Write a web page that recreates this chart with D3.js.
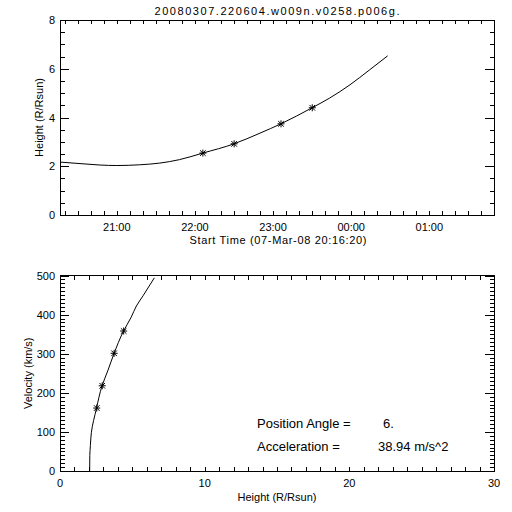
<!DOCTYPE html>
<html><head><meta charset="utf-8">
<script src="https://cdn.jsdelivr.net/npm/d3@7"></script>
<style>
html,body{margin:0;padding:0;background:#fff;}
text{font-family:"Liberation Sans",Arial,sans-serif;fill:#000;}
</style></head>
<body><svg id="c" width="512" height="512"></svg>
<script>
// ---- data ----
const titleText = "20080307.220604.w009n.v0258.p006g.";
const startTime = "2008-03-07T20:16:20Z";
const obsTimes = ["2008-03-07T22:06:04Z","2008-03-07T22:30:05Z","2008-03-07T23:06:05Z","2008-03-07T23:30:05Z"];
const obsHeights = [2.54, 2.92, 3.74, 4.40];
const obsVelocities = [161, 218, 301, 358];
const fitTimes = ["2008-03-07T20:16:20Z","2008-03-07T20:34:00Z","2008-03-07T20:47:00Z","2008-03-07T21:00:00Z",
  "2008-03-07T21:17:30Z","2008-03-07T21:33:00Z","2008-03-07T21:48:00Z","2008-03-07T22:06:00Z",
  "2008-03-07T22:30:00Z","2008-03-07T22:50:00Z","2008-03-07T23:06:00Z","2008-03-07T23:30:00Z",
  "2008-03-07T23:43:30Z","2008-03-07T23:59:00Z","2008-03-08T00:14:00Z","2008-03-08T00:28:00Z"];
const fitHeights = [2.17,2.10,2.05,2.03,2.06,2.13,2.27,2.54,2.92,3.36,3.74,4.40,4.80,5.34,5.95,6.53];
const velCurveHeights = [2.05,2.06,2.10,2.17,2.52,2.90,3.32,3.73,4.38,4.93,5.28,5.74,6.52];
const velCurveValues  = [0,40,65,99,160,217,258,300,357,394,422,448,494];
const heightTicks = [0,2,4,6,8];
const velTicks = [0,100,200,300,400,500];
const hdistTicks = [0,10,20,30];
const xTitleTop = "Start Time (07-Mar-08 20:16:20)";
const yTitleTop = "Height (R/Rsun)";
const xTitleBot = "Height (R/Rsun)";
const yTitleBot = "Velocity (km/s)";
const paLabel = "Position Angle =", paValue = "6.";
const accLabel = "Acceleration =", accValue = "38.94 m/s^2";

// ---- layout ----
const svg = d3.select("#c");
const L = 60, R = 494;
const top1 = 20, bot1 = 215, top2 = 275.5, bot2 = 471;
const t0 = new Date(startTime);
const x1 = d3.scaleUtc().domain([t0, new Date(+t0 + 20000*1000)]).range([L, R]);
const y1 = d3.scaleLinear().domain([0, 8]).range([bot1, top1]);
const x2 = d3.scaleLinear().domain([0, 30]).range([L, R]);
const y2 = d3.scaleLinear().domain([0, 500]).range([bot2, top2]);

function frame(t, b){
  svg.append("rect").attr("x",L).attr("y",t).attr("width",R-L).attr("height",b-t)
    .attr("fill","none").attr("stroke","#000").attr("stroke-width",1).attr("shape-rendering","crispEdges");
}
function hticks(xs, xscale, t, b, len){
  const g = svg.append("g").attr("stroke","#000").attr("shape-rendering","crispEdges");
  xs.forEach(v=>{
    const x = Math.round(xscale(v))+0.5;
    g.append("line").attr("x1",x).attr("x2",x).attr("y1",b).attr("y2",b-len);
    g.append("line").attr("x1",x).attr("x2",x).attr("y1",t).attr("y2",t+len);
  });
}
function vticks(vs, yscale, len){
  const g = svg.append("g").attr("stroke","#000").attr("shape-rendering","crispEdges");
  vs.forEach(v=>{
    const y = Math.round(yscale(v))+0.5;
    g.append("line").attr("x1",L).attr("x2",L+len).attr("y1",y).attr("y2",y);
    g.append("line").attr("x1",R).attr("x2",R-len).attr("y1",y).attr("y2",y);
  });
}
function star(x, y){
  const s = 3.5, g = svg.append("g").attr("stroke","#000").attr("stroke-width",1);
  g.append("line").attr("x1",x-s).attr("x2",x+s).attr("y1",y).attr("y2",y);
  g.append("line").attr("x1",x).attr("x2",x).attr("y1",y-s).attr("y2",y+s);
  g.append("line").attr("x1",x-s*0.8).attr("x2",x+s*0.8).attr("y1",y-s*0.8).attr("y2",y+s*0.8);
  g.append("line").attr("x1",x-s*0.8).attr("x2",x+s*0.8).attr("y1",y+s*0.8).attr("y2",y-s*0.8);
}

// title
svg.append("text").attr("x",277).attr("y",15).attr("text-anchor","middle")
  .attr("font-size",11).attr("textLength",245).attr("lengthAdjust","spacing").text(titleText);

// ---- top plot ----
frame(top1, bot1);
hticks(d3.utcMinute.every(10).range(x1.domain()[0], x1.domain()[1]), x1, top1, bot1, 4);
vticks(d3.range(0, 8.01, 0.5).filter(v=>v%2!==0), y1, 4.5);
vticks(heightTicks, y1, 9);
x1.ticks(d3.utcHour.every(1)).forEach(d=>{
  svg.append("text").attr("x",x1(d)).attr("y",bot1+16).attr("text-anchor","middle")
    .attr("font-size",11).text(d3.utcFormat("%H:%M")(d));
});
heightTicks.forEach(v=>{
  svg.append("text").attr("x",L-5).attr("y",y1(v)+4).attr("text-anchor","end")
    .attr("font-size",11).text(v);
});
svg.append("text").attr("x",278).attr("y",244).attr("text-anchor","middle")
  .attr("font-size",11).attr("textLength",177).attr("lengthAdjust","spacing").text(xTitleTop);
svg.append("text").attr("transform",`translate(43,${(top1+bot1)/2}) rotate(-90)`)
  .attr("text-anchor","middle").attr("font-size",11).text(yTitleTop);

const fitData = fitTimes.map((t,i)=>[new Date(t), fitHeights[i]]);
svg.append("path").datum(fitData).attr("fill","none").attr("stroke","#000").attr("stroke-width",1)
  .attr("d", d3.line().x(d=>x1(d[0])).y(d=>y1(d[1])).curve(d3.curveMonotoneX));
obsTimes.forEach((t,i)=>star(x1(new Date(t)), y1(obsHeights[i])));

// ---- bottom plot ----
frame(top2, bot2);
hticks(d3.range(0,31,1), x2, top2, bot2, 4);
vticks(d3.range(0,501,10).filter(v=>v%100!==0), y2, 4.5);
vticks(velTicks, y2, 9);
hdistTicks.forEach(v=>{
  svg.append("text").attr("x",x2(v)).attr("y",bot2+16).attr("text-anchor","middle")
    .attr("font-size",11).text(v);
});
velTicks.forEach(v=>{
  svg.append("text").attr("x",L-5).attr("y",y2(v)+4).attr("text-anchor","end")
    .attr("font-size",11).text(v);
});
svg.append("text").attr("x",277).attr("y",501).attr("text-anchor","middle")
  .attr("font-size",11).text(xTitleBot);
svg.append("text").attr("transform",`translate(32,${(top2+bot2)/2}) rotate(-90)`)
  .attr("text-anchor","middle").attr("font-size",11).text(yTitleBot);

const velData = velCurveHeights.map((h,i)=>[h, velCurveValues[i]]);
svg.append("path").datum(velData).attr("fill","none").attr("stroke","#000").attr("stroke-width",1)
  .attr("d", d3.line().x(d=>x2(d[0])).y(d=>y2(d[1])).curve(d3.curveMonotoneY));
obsHeights.forEach((h,i)=>star(x2(h), y2(obsVelocities[i])));

// annotations
svg.append("text").attr("x",257).attr("y",428).attr("font-size",13).text(paLabel);
svg.append("text").attr("x",383).attr("y",428).attr("font-size",13).text(paValue);
svg.append("text").attr("x",257).attr("y",451).attr("font-size",13).text(accLabel);
svg.append("text").attr("x",378).attr("y",451).attr("font-size",13).text(accValue);
</script></body></html>
